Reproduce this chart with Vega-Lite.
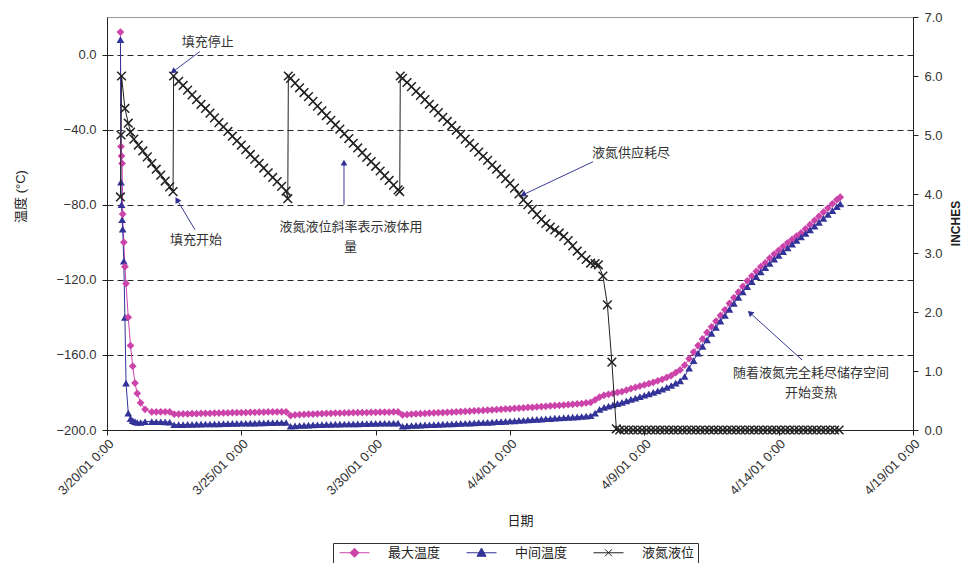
{
"$schema":"https://vega.github.io/schema/vega-lite/v6.json",
"width":806,"height":413,"autosize":"none",
"padding":{"left":107,"top":17,"right":55,"bottom":133},
"background":"white",
"config":{
 "font":"Liberation Sans, Noto Sans CJK SC",
 "view":{"stroke":"#999","strokeWidth":1},
 "axis":{"domainColor":"#222","tickColor":"#222","labelColor":"#333","titleColor":"#222","labelFontSize":13,"titleFontWeight":"normal","titleFontSize":13}
},
"datasets":{
"temp":[
{"t":"2001-03-20T12:00","a":12,"b":8},
{"t":"2001-03-20T12:30","a":-49,"b":-68},
{"t":"2001-03-20T13:00","a":-54,"b":-80},
{"t":"2001-03-20T13:30","a":-58,"b":-88},
{"t":"2001-03-20T14:00","a":-85,"b":-93},
{"t":"2001-03-20T15:00","a":-100,"b":-110},
{"t":"2001-03-20T16:00","a":-113,"b":-140},
{"t":"2001-03-20T17:00","a":-122,"b":-175},
{"t":"2001-03-20T19:00","a":-140,"b":-191},
{"t":"2001-03-20T21:00","a":-155,"b":-194},
{"t":"2001-03-20T23:00","a":-166,"b":-195},
{"t":"2001-03-21T01:00","a":-175,"b":-195.5},
{"t":"2001-03-21T03:00","a":-180.5,"b":-196},
{"t":"2001-03-21T06:00","a":-185.5,"b":-196},
{"t":"2001-03-21T10:00","a":-189,"b":-195.5},
{"t":"2001-03-21T16:00","a":-190.4,"b":-195.5},
{"t":"2001-03-21T20:00","a":-190.4,"b":-195.6},
{"t":"2001-03-22T00:00","a":-190.3,"b":-195.6},
{"t":"2001-03-22T04:00","a":-190.3,"b":-195.7},
{"t":"2001-03-22T08:00","a":-190.4,"b":-195.8},
{"t":"2001-03-22T12:00","a":-191.6,"b":-197.2},
{"t":"2001-03-22T16:00","a":-191.5,"b":-197.1},
{"t":"2001-03-22T20:00","a":-191.4,"b":-197.1},
{"t":"2001-03-23T00:00","a":-191.4,"b":-197.0},
{"t":"2001-03-23T04:00","a":-191.3,"b":-197.0},
{"t":"2001-03-23T08:00","a":-191.3,"b":-196.9},
{"t":"2001-03-23T12:00","a":-191.2,"b":-196.9},
{"t":"2001-03-23T16:00","a":-191.1,"b":-196.8},
{"t":"2001-03-23T20:00","a":-191.1,"b":-196.8},
{"t":"2001-03-24T00:00","a":-191.0,"b":-196.7},
{"t":"2001-03-24T04:00","a":-191.0,"b":-196.7},
{"t":"2001-03-24T08:00","a":-190.9,"b":-196.6},
{"t":"2001-03-24T12:00","a":-190.9,"b":-196.6},
{"t":"2001-03-24T16:00","a":-190.8,"b":-196.5},
{"t":"2001-03-24T20:00","a":-190.8,"b":-196.5},
{"t":"2001-03-25T00:00","a":-190.7,"b":-196.4},
{"t":"2001-03-25T04:00","a":-190.7,"b":-196.4},
{"t":"2001-03-25T08:00","a":-190.6,"b":-196.3},
{"t":"2001-03-25T12:00","a":-190.6,"b":-196.3},
{"t":"2001-03-25T16:00","a":-190.5,"b":-196.2},
{"t":"2001-03-25T20:00","a":-190.5,"b":-196.2},
{"t":"2001-03-26T00:00","a":-190.4,"b":-196.1},
{"t":"2001-03-26T04:00","a":-190.4,"b":-196.1},
{"t":"2001-03-26T08:00","a":-190.3,"b":-196.0},
{"t":"2001-03-26T12:00","a":-190.3,"b":-196.0},
{"t":"2001-03-26T16:00","a":-190.3,"b":-196.0},
{"t":"2001-03-26T20:00","a":-192.3,"b":-198.0},
{"t":"2001-03-27T00:00","a":-192.0,"b":-197.8},
{"t":"2001-03-27T04:00","a":-191.8,"b":-197.6},
{"t":"2001-03-27T08:00","a":-191.7,"b":-197.5},
{"t":"2001-03-27T12:00","a":-191.6,"b":-197.4},
{"t":"2001-03-27T16:00","a":-191.5,"b":-197.3},
{"t":"2001-03-27T20:00","a":-191.4,"b":-197.2},
{"t":"2001-03-28T00:00","a":-191.3,"b":-197.1},
{"t":"2001-03-28T04:00","a":-191.2,"b":-197.0},
{"t":"2001-03-28T08:00","a":-191.1,"b":-197.0},
{"t":"2001-03-28T12:00","a":-191.0,"b":-196.9},
{"t":"2001-03-28T16:00","a":-191.0,"b":-196.9},
{"t":"2001-03-28T20:00","a":-190.9,"b":-196.8},
{"t":"2001-03-29T00:00","a":-190.9,"b":-196.8},
{"t":"2001-03-29T04:00","a":-190.8,"b":-196.7},
{"t":"2001-03-29T08:00","a":-190.8,"b":-196.7},
{"t":"2001-03-29T12:00","a":-190.7,"b":-196.6},
{"t":"2001-03-29T16:00","a":-190.7,"b":-196.6},
{"t":"2001-03-29T20:00","a":-190.6,"b":-196.5},
{"t":"2001-03-30T00:00","a":-190.6,"b":-196.5},
{"t":"2001-03-30T04:00","a":-190.5,"b":-196.4},
{"t":"2001-03-30T08:00","a":-190.5,"b":-196.4},
{"t":"2001-03-30T12:00","a":-190.5,"b":-196.4},
{"t":"2001-03-30T16:00","a":-190.4,"b":-196.3},
{"t":"2001-03-30T20:00","a":-190.4,"b":-196.3},
{"t":"2001-03-31T00:00","a":-192.0,"b":-198.0},
{"t":"2001-03-31T04:00","a":-191.8,"b":-197.8},
{"t":"2001-03-31T08:00","a":-191.6,"b":-197.6},
{"t":"2001-03-31T12:00","a":-191.4,"b":-197.5},
{"t":"2001-03-31T16:00","a":-191.3,"b":-197.4},
{"t":"2001-03-31T20:00","a":-191.2,"b":-197.3},
{"t":"2001-04-01T00:00","a":-191.0,"b":-197.2},
{"t":"2001-04-01T04:00","a":-190.9,"b":-197.1},
{"t":"2001-04-01T08:00","a":-190.8,"b":-197.0},
{"t":"2001-04-01T12:00","a":-190.7,"b":-196.9},
{"t":"2001-04-01T16:00","a":-190.6,"b":-196.8},
{"t":"2001-04-01T20:00","a":-190.5,"b":-196.7},
{"t":"2001-04-02T00:00","a":-190.4,"b":-196.6},
{"t":"2001-04-02T04:00","a":-190.2,"b":-196.5},
{"t":"2001-04-02T08:00","a":-190.1,"b":-196.4},
{"t":"2001-04-02T12:00","a":-190.0,"b":-196.3},
{"t":"2001-04-02T16:00","a":-189.8,"b":-196.2},
{"t":"2001-04-02T20:00","a":-189.7,"b":-196.1},
{"t":"2001-04-03T00:00","a":-189.6,"b":-196.0},
{"t":"2001-04-03T04:00","a":-189.4,"b":-195.9},
{"t":"2001-04-03T08:00","a":-189.3,"b":-195.8},
{"t":"2001-04-03T12:00","a":-189.1,"b":-195.6},
{"t":"2001-04-03T16:00","a":-189.0,"b":-195.5},
{"t":"2001-04-03T20:00","a":-188.8,"b":-195.4},
{"t":"2001-04-04T00:00","a":-188.7,"b":-195.2},
{"t":"2001-04-04T04:00","a":-188.5,"b":-195.1},
{"t":"2001-04-04T08:00","a":-188.4,"b":-194.9},
{"t":"2001-04-04T12:00","a":-188.2,"b":-194.8},
{"t":"2001-04-04T16:00","a":-188.0,"b":-194.6},
{"t":"2001-04-04T20:00","a":-187.9,"b":-194.5},
{"t":"2001-04-05T00:00","a":-187.7,"b":-194.3},
{"t":"2001-04-05T04:00","a":-187.5,"b":-194.2},
{"t":"2001-04-05T08:00","a":-187.4,"b":-194.0},
{"t":"2001-04-05T12:00","a":-187.2,"b":-193.9},
{"t":"2001-04-05T16:00","a":-187.0,"b":-193.7},
{"t":"2001-04-05T20:00","a":-186.9,"b":-193.6},
{"t":"2001-04-06T00:00","a":-186.7,"b":-193.4},
{"t":"2001-04-06T04:00","a":-186.5,"b":-193.3},
{"t":"2001-04-06T08:00","a":-186.3,"b":-193.1},
{"t":"2001-04-06T12:00","a":-186.1,"b":-193.0},
{"t":"2001-04-06T16:00","a":-185.9,"b":-192.8},
{"t":"2001-04-06T20:00","a":-185.6,"b":-192.6},
{"t":"2001-04-07T00:00","a":-185.3,"b":-192.4},
{"t":"2001-04-07T04:00","a":-184.0,"b":-191.0},
{"t":"2001-04-07T08:00","a":-182.5,"b":-189.0},
{"t":"2001-04-07T12:00","a":-181.5,"b":-188.0},
{"t":"2001-04-07T16:00","a":-181.0,"b":-187.3},
{"t":"2001-04-07T20:00","a":-180.5,"b":-186.6},
{"t":"2001-04-08T00:00","a":-180.0,"b":-186.0},
{"t":"2001-04-08T04:00","a":-179.5,"b":-185.3},
{"t":"2001-04-08T08:00","a":-178.8,"b":-184.5},
{"t":"2001-04-08T12:00","a":-178.0,"b":-183.7},
{"t":"2001-04-08T16:00","a":-177.3,"b":-183.0},
{"t":"2001-04-08T20:00","a":-176.6,"b":-182.2},
{"t":"2001-04-09T00:00","a":-176.0,"b":-181.5},
{"t":"2001-04-09T04:00","a":-175.3,"b":-180.8},
{"t":"2001-04-09T08:00","a":-174.6,"b":-180.0},
{"t":"2001-04-09T12:00","a":-173.8,"b":-179.2},
{"t":"2001-04-09T16:00","a":-173.0,"b":-178.3},
{"t":"2001-04-09T20:00","a":-172.0,"b":-177.3},
{"t":"2001-04-10T00:00","a":-171.0,"b":-176.3},
{"t":"2001-04-10T04:00","a":-169.5,"b":-175.0},
{"t":"2001-04-10T08:00","a":-168.0,"b":-173.8},
{"t":"2001-04-10T12:00","a":-165.5,"b":-171.5},
{"t":"2001-04-10T16:00","a":-162.0,"b":-167.0},
{"t":"2001-04-10T20:00","a":-158.5,"b":-163.0},
{"t":"2001-04-11T00:00","a":-155.0,"b":-159.0},
{"t":"2001-04-11T04:00","a":-151.5,"b":-155.5},
{"t":"2001-04-11T08:00","a":-148.0,"b":-152.0},
{"t":"2001-04-11T12:00","a":-145.0,"b":-148.5},
{"t":"2001-04-11T16:00","a":-142.0,"b":-145.3},
{"t":"2001-04-11T20:00","a":-139.0,"b":-142.0},
{"t":"2001-04-12T00:00","a":-136.0,"b":-139.0},
{"t":"2001-04-12T04:00","a":-132.5,"b":-135.7},
{"t":"2001-04-12T08:00","a":-129.5,"b":-132.5},
{"t":"2001-04-12T12:00","a":-126.5,"b":-129.3},
{"t":"2001-04-12T16:00","a":-123.5,"b":-126.5},
{"t":"2001-04-12T20:00","a":-120.5,"b":-123.7},
{"t":"2001-04-13T00:00","a":-118.0,"b":-121.0},
{"t":"2001-04-13T04:00","a":-115.5,"b":-118.3},
{"t":"2001-04-13T08:00","a":-113.0,"b":-115.8},
{"t":"2001-04-13T12:00","a":-111.0,"b":-113.5},
{"t":"2001-04-13T16:00","a":-108.5,"b":-111.3},
{"t":"2001-04-13T20:00","a":-106.3,"b":-109.0},
{"t":"2001-04-14T00:00","a":-104.3,"b":-107.0},
{"t":"2001-04-14T04:00","a":-102.3,"b":-105.0},
{"t":"2001-04-14T08:00","a":-100.3,"b":-103.0},
{"t":"2001-04-14T12:00","a":-98.5,"b":-101.0},
{"t":"2001-04-14T16:00","a":-96.7,"b":-99.0},
{"t":"2001-04-14T20:00","a":-95.0,"b":-97.2},
{"t":"2001-04-15T00:00","a":-92.8,"b":-95.3},
{"t":"2001-04-15T04:00","a":-90.6,"b":-93.4},
{"t":"2001-04-15T08:00","a":-88.4,"b":-91.4},
{"t":"2001-04-15T12:00","a":-86.2,"b":-89.4},
{"t":"2001-04-15T16:00","a":-84.0,"b":-87.3},
{"t":"2001-04-15T20:00","a":-81.8,"b":-85.2},
{"t":"2001-04-16T00:00","a":-79.5,"b":-83.1},
{"t":"2001-04-16T04:00","a":-77.3,"b":-81.0},
{"t":"2001-04-16T07:00","a":-76.0,"b":-79.5}
],
"lvl":[
{"t":"2001-03-20T12:00","c":3.95},
{"t":"2001-03-20T12:30","c":5.0},
{"t":"2001-03-20T13:00","c":6.0},
{"t":"2001-03-20T16:00","c":5.45},
{"t":"2001-03-20T19:00","c":5.2},
{"t":"2001-03-20T21:00","c":5.05},
{"t":"2001-03-21T00:00","c":4.93},
{"t":"2001-03-21T04:00","c":4.83},
{"t":"2001-03-21T08:00","c":4.73},
{"t":"2001-03-21T12:00","c":4.63},
{"t":"2001-03-21T16:00","c":4.52},
{"t":"2001-03-21T20:00","c":4.42},
{"t":"2001-03-22T00:00","c":4.32},
{"t":"2001-03-22T04:00","c":4.22},
{"t":"2001-03-22T08:00","c":4.12},
{"t":"2001-03-22T11:00","c":4.04},
{"t":"2001-03-22T11:30","c":6.0},
{"t":"2001-03-22T16:00","c":5.91},
{"t":"2001-03-22T20:00","c":5.84},
{"t":"2001-03-23T00:00","c":5.76},
{"t":"2001-03-23T04:00","c":5.68},
{"t":"2001-03-23T08:00","c":5.60},
{"t":"2001-03-23T12:00","c":5.52},
{"t":"2001-03-23T16:00","c":5.45},
{"t":"2001-03-23T20:00","c":5.37},
{"t":"2001-03-24T00:00","c":5.29},
{"t":"2001-03-24T04:00","c":5.21},
{"t":"2001-03-24T08:00","c":5.14},
{"t":"2001-03-24T12:00","c":5.06},
{"t":"2001-03-24T16:00","c":4.98},
{"t":"2001-03-24T20:00","c":4.90},
{"t":"2001-03-25T00:00","c":4.83},
{"t":"2001-03-25T04:00","c":4.75},
{"t":"2001-03-25T08:00","c":4.67},
{"t":"2001-03-25T12:00","c":4.59},
{"t":"2001-03-25T16:00","c":4.52},
{"t":"2001-03-25T20:00","c":4.44},
{"t":"2001-03-26T00:00","c":4.36},
{"t":"2001-03-26T04:00","c":4.28},
{"t":"2001-03-26T08:00","c":4.21},
{"t":"2001-03-26T12:00","c":4.13},
{"t":"2001-03-26T16:00","c":4.05},
{"t":"2001-03-26T17:30","c":3.92},
{"t":"2001-03-26T18:00","c":6.0},
{"t":"2001-03-26T20:00","c":5.96},
{"t":"2001-03-27T00:00","c":5.88},
{"t":"2001-03-27T04:00","c":5.80},
{"t":"2001-03-27T08:00","c":5.72},
{"t":"2001-03-27T12:00","c":5.65},
{"t":"2001-03-27T16:00","c":5.57},
{"t":"2001-03-27T20:00","c":5.49},
{"t":"2001-03-28T00:00","c":5.41},
{"t":"2001-03-28T04:00","c":5.33},
{"t":"2001-03-28T08:00","c":5.25},
{"t":"2001-03-28T12:00","c":5.17},
{"t":"2001-03-28T16:00","c":5.10},
{"t":"2001-03-28T20:00","c":5.02},
{"t":"2001-03-29T00:00","c":4.94},
{"t":"2001-03-29T04:00","c":4.86},
{"t":"2001-03-29T08:00","c":4.78},
{"t":"2001-03-29T12:00","c":4.70},
{"t":"2001-03-29T16:00","c":4.62},
{"t":"2001-03-29T20:00","c":4.55},
{"t":"2001-03-30T00:00","c":4.47},
{"t":"2001-03-30T04:00","c":4.39},
{"t":"2001-03-30T08:00","c":4.31},
{"t":"2001-03-30T12:00","c":4.23},
{"t":"2001-03-30T16:00","c":4.15},
{"t":"2001-03-30T20:00","c":4.07},
{"t":"2001-03-30T21:30","c":4.04},
{"t":"2001-03-30T22:00","c":6.0},
{"t":"2001-03-31T00:00","c":5.96},
{"t":"2001-03-31T04:00","c":5.89},
{"t":"2001-03-31T08:00","c":5.82},
{"t":"2001-03-31T12:00","c":5.74},
{"t":"2001-03-31T16:00","c":5.67},
{"t":"2001-03-31T20:00","c":5.60},
{"t":"2001-04-01T00:00","c":5.52},
{"t":"2001-04-01T04:00","c":5.45},
{"t":"2001-04-01T08:00","c":5.38},
{"t":"2001-04-01T12:00","c":5.30},
{"t":"2001-04-01T16:00","c":5.23},
{"t":"2001-04-01T20:00","c":5.16},
{"t":"2001-04-02T00:00","c":5.08},
{"t":"2001-04-02T04:00","c":5.01},
{"t":"2001-04-02T08:00","c":4.93},
{"t":"2001-04-02T12:00","c":4.86},
{"t":"2001-04-02T16:00","c":4.79},
{"t":"2001-04-02T20:00","c":4.71},
{"t":"2001-04-03T00:00","c":4.64},
{"t":"2001-04-03T04:00","c":4.57},
{"t":"2001-04-03T08:00","c":4.49},
{"t":"2001-04-03T12:00","c":4.42},
{"t":"2001-04-03T16:00","c":4.34},
{"t":"2001-04-03T20:00","c":4.26},
{"t":"2001-04-04T00:00","c":4.18},
{"t":"2001-04-04T04:00","c":4.10},
{"t":"2001-04-04T08:00","c":4.00},
{"t":"2001-04-04T12:00","c":3.90},
{"t":"2001-04-04T16:00","c":3.82},
{"t":"2001-04-04T20:00","c":3.74},
{"t":"2001-04-05T00:00","c":3.65},
{"t":"2001-04-05T04:00","c":3.57},
{"t":"2001-04-05T08:00","c":3.50},
{"t":"2001-04-05T12:00","c":3.44},
{"t":"2001-04-05T16:00","c":3.39},
{"t":"2001-04-05T20:00","c":3.34},
{"t":"2001-04-06T00:00","c":3.28},
{"t":"2001-04-06T04:00","c":3.21},
{"t":"2001-04-06T08:00","c":3.12},
{"t":"2001-04-06T12:00","c":3.03},
{"t":"2001-04-06T16:00","c":2.96},
{"t":"2001-04-06T20:00","c":2.89},
{"t":"2001-04-07T00:00","c":2.83},
{"t":"2001-04-07T04:00","c":2.82},
{"t":"2001-04-07T07:00","c":2.80},
{"t":"2001-04-07T11:00","c":2.61},
{"t":"2001-04-07T15:00","c":2.12},
{"t":"2001-04-07T19:00","c":1.15},
{"t":"2001-04-07T23:00","c":0.02},
{"t":"2001-04-08T02:00","c":0},{"t":"2001-04-08T06:00","c":0},{"t":"2001-04-08T10:00","c":0},{"t":"2001-04-08T14:00","c":0},{"t":"2001-04-08T18:00","c":0},{"t":"2001-04-08T22:00","c":0},
{"t":"2001-04-09T02:00","c":0},{"t":"2001-04-09T06:00","c":0},{"t":"2001-04-09T10:00","c":0},{"t":"2001-04-09T14:00","c":0},{"t":"2001-04-09T18:00","c":0},{"t":"2001-04-09T22:00","c":0},
{"t":"2001-04-10T02:00","c":0},{"t":"2001-04-10T06:00","c":0},{"t":"2001-04-10T10:00","c":0},{"t":"2001-04-10T14:00","c":0},{"t":"2001-04-10T18:00","c":0},{"t":"2001-04-10T22:00","c":0},
{"t":"2001-04-11T02:00","c":0},{"t":"2001-04-11T06:00","c":0},{"t":"2001-04-11T10:00","c":0},{"t":"2001-04-11T14:00","c":0},{"t":"2001-04-11T18:00","c":0},{"t":"2001-04-11T22:00","c":0},
{"t":"2001-04-12T02:00","c":0},{"t":"2001-04-12T06:00","c":0},{"t":"2001-04-12T10:00","c":0},{"t":"2001-04-12T14:00","c":0},{"t":"2001-04-12T18:00","c":0},{"t":"2001-04-12T22:00","c":0},
{"t":"2001-04-13T02:00","c":0},{"t":"2001-04-13T06:00","c":0},{"t":"2001-04-13T10:00","c":0},{"t":"2001-04-13T14:00","c":0},{"t":"2001-04-13T18:00","c":0},{"t":"2001-04-13T22:00","c":0},
{"t":"2001-04-14T02:00","c":0},{"t":"2001-04-14T06:00","c":0},{"t":"2001-04-14T10:00","c":0},{"t":"2001-04-14T14:00","c":0},{"t":"2001-04-14T18:00","c":0},{"t":"2001-04-14T22:00","c":0},
{"t":"2001-04-15T02:00","c":0},{"t":"2001-04-15T06:00","c":0},{"t":"2001-04-15T10:00","c":0},{"t":"2001-04-15T14:00","c":0},{"t":"2001-04-15T18:00","c":0},{"t":"2001-04-15T22:00","c":0},
{"t":"2001-04-16T02:00","c":0},{"t":"2001-04-16T06:00","c":0}
],
"notes":[
{"t":"2001-03-23T18:00","v":6.9,"label":"填充停止"},
{"t":"2001-03-23T07:30","v":-98.7,"label":"填充开始"},
{"t":"2001-03-29T02:00","v":-91.7,"label":"液氮液位斜率表示液体用"},
{"t":"2001-03-29T01:30","v":-102.4,"label":"量"},
{"t":"2001-04-08T12:00","v":-52.3,"label":"液氮供应耗尽"},
{"t":"2001-04-15T04:54","v":-169.6,"label":"随着液氮完全耗尽储存空间"},
{"t":"2001-04-15T04:54","v":-180.3,"label":"开始变热"}
],
"arrows":[
{"id":1,"t":"2001-03-23T11:00","v":1.6,"t2":"2001-03-22T11:00","v2":-9.1},
{"id":2,"t":"2001-03-23T06:36","v":-93.3,"t2":"2001-03-22T14:30","v2":-77.3},
{"id":3,"t":"2001-03-28T19:42","v":-80,"t2":"2001-03-28T19:42","v2":-57.6},
{"id":4,"t":"2001-04-07T02:06","v":-57.1,"t2":"2001-04-04T11:36","v2":-74.7},
{"id":5,"t":"2001-04-14T20:54","v":-162.7,"t2":"2001-04-12T22:24","v2":-137.6}
]
},
"layer":[
{"layer":[
 {"data":{"name":"temp"},
  "transform":[{"fold":["a","b"],"as":["s","v"]}],
  "mark":{"type":"line","strokeWidth":1},
  "encoding":{
   "x":{"field":"t","type":"temporal",
     "scale":{"domain":[{"year":2001,"month":3,"date":20},{"year":2001,"month":4,"date":19}]},
     "axis":{"values":[{"year":2001,"month":3,"date":20},{"year":2001,"month":3,"date":25},{"year":2001,"month":3,"date":30},{"year":2001,"month":4,"date":4},{"year":2001,"month":4,"date":9},{"year":2001,"month":4,"date":14},{"year":2001,"month":4,"date":19}],
       "format":"%-m/%-d/%y %-H:%M","labelAngle":-45,"labelFontSize":13,"tickSize":5,"grid":false,"labelPadding":2,
       "title":"日期","titleX":413,"titleY":90,"titleBaseline":"middle","titleFontSize":13}},
   "y":{"field":"v","type":"quantitative","scale":{"domain":[-200,20]},
     "axis":{"values":[-200,-160,-120,-80,-40,0],"format":".1f","grid":true,"gridDash":[6,4],"gridColor":"#111","gridOpacity":0.9,
       "tickSize":5,"labelPadding":6,"title":"温度    (°C)","titleX":-87,"titleY":179,"titleAngle":270,"titleBaseline":"middle"}},
   "color":{"field":"s","type":"nominal",
     "scale":{"domain":["a","b","c"],"range":["#cc44aa","#333399","#222222"]},
     "legend":{"orient":"none","legendX":226,"legendY":526,"direction":"horizontal","title":null,
       "labelExpr":"datum.label=='a'?'最大温度':datum.label=='b'?'中间温度':'液氮液位'",
       "labelFontSize":13,"labelColor":"#222","symbolSize":100,"symbolOffset":12,"labelOffset":27,"columnPadding":22,
       "strokeColor":"#333","padding":3,
       "encode":{"symbols":{"update":{
         "shape":{"signal":"datum.value=='a'?'M-3,0L3,0M0,-0.9L0.9,0L0,0.9L-0.9,0Z':datum.value=='b'?'M-3,0L3,0M0,-0.95L0.9,0.7L-0.9,0.7Z':'M-3,0L3,0M-0.7,-0.7L0.7,0.7M-0.7,0.7L0.7,-0.7'"},
         "fill":{"scale":"color","field":"value"},
         "stroke":{"scale":"color","field":"value"},
         "strokeWidth":{"value":1},
         "opacity":{"value":1}}}}}}
  }},
 {"data":{"name":"temp"},
  "transform":[{"fold":["a","b"],"as":["s","v"]}],
  "mark":{"type":"point","filled":true,"size":60,"opacity":1},
  "encoding":{
   "x":{"field":"t","type":"temporal"},
   "y":{"field":"v","type":"quantitative"},
   "color":{"field":"s","type":"nominal"},
   "shape":{"field":"s","type":"nominal","scale":{"domain":["a","b"],"range":["diamond","triangle-up"]},"legend":null}
  }},
 {"data":{"name":"notes"},
  "mark":{"type":"text","fontSize":13,"color":"#333","font":"Noto Sans CJK SC","baseline":"middle","align":"center"},
  "encoding":{
   "x":{"field":"t","type":"temporal"},
   "y":{"field":"v","type":"quantitative"},
   "text":{"field":"label"}
  }},
 {"data":{"name":"arrows"},
  "mark":{"type":"rule","color":"#3a3a9a","strokeWidth":1},
  "encoding":{
   "x":{"field":"t","type":"temporal"},
   "y":{"field":"v","type":"quantitative"},
   "x2":{"field":"t2"},
   "y2":{"field":"v2"}
  }},
 {"data":{"name":"arrows"},"transform":[{"filter":"datum.id==1"}],
  "mark":{"type":"point","shape":"triangle-up","filled":true,"color":"#303090","size":45,"angle":233.5,"opacity":1},
  "encoding":{"x":{"field":"t2","type":"temporal"},"y":{"field":"v2","type":"quantitative"}}},
 {"data":{"name":"arrows"},"transform":[{"filter":"datum.id==2"}],
  "mark":{"type":"point","shape":"triangle-up","filled":true,"color":"#303090","size":45,"angle":329,"opacity":1},
  "encoding":{"x":{"field":"t2","type":"temporal"},"y":{"field":"v2","type":"quantitative"}}},
 {"data":{"name":"arrows"},"transform":[{"filter":"datum.id==3"}],
  "mark":{"type":"point","shape":"triangle-up","filled":true,"color":"#303090","size":45,"angle":0,"opacity":1},
  "encoding":{"x":{"field":"t2","type":"temporal"},"y":{"field":"v2","type":"quantitative"}}},
 {"data":{"name":"arrows"},"transform":[{"filter":"datum.id==4"}],
  "mark":{"type":"point","shape":"triangle-up","filled":true,"color":"#303090","size":45,"angle":245,"opacity":1},
  "encoding":{"x":{"field":"t2","type":"temporal"},"y":{"field":"v2","type":"quantitative"}}},
 {"data":{"name":"arrows"},"transform":[{"filter":"datum.id==5"}],
  "mark":{"type":"point","shape":"triangle-up","filled":true,"color":"#303090","size":45,"angle":312,"opacity":1},
  "encoding":{"x":{"field":"t2","type":"temporal"},"y":{"field":"v2","type":"quantitative"}}}
]},
{"layer":[
 {"data":{"name":"lvl"},
  "transform":[{"fold":["c"],"as":["s","v"]}],
  "mark":{"type":"line","strokeWidth":1},
  "encoding":{
   "x":{"field":"t","type":"temporal"},
   "y":{"field":"v","type":"quantitative","scale":{"domain":[0,7]},
     "axis":{"orient":"right","values":[0,1,2,3,4,5,6,7],"format":".1f","grid":false,"tickSize":5,"labelPadding":6,
       "title":"INCHES","titleFontWeight":"bold","titleFontSize":12,"titleX":42,"titleY":206,"titleAngle":270,"titleBaseline":"middle"}},
   "color":{"field":"s","type":"nominal"}
  }},
 {"data":{"name":"lvl"},
  "transform":[{"fold":["c"],"as":["s","v"]}],
  "mark":{"type":"point","shape":"M-1,-1L1,1M-1,1L1,-1","filled":false,"size":75,"strokeWidth":1.5,"opacity":1},
  "encoding":{
   "x":{"field":"t","type":"temporal"},
   "y":{"field":"v","type":"quantitative"},
   "color":{"field":"s","type":"nominal"}
  }}
]}
],
"resolve":{"scale":{"y":"independent"},"axis":{"y":"independent"}}
}
